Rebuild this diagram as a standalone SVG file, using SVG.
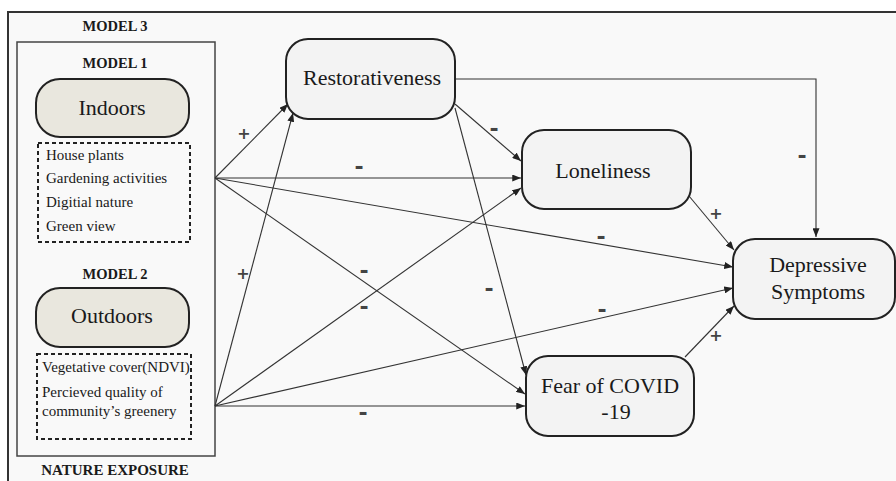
<svg xmlns="http://www.w3.org/2000/svg" width="896" height="481" viewBox="0 0 896 481">
<style>
text.serif{font-family:'Liberation Serif','Times New Roman','DejaVu Serif',serif;fill:#1a1a1a}
.node{fill:#f3f3f3;stroke:#222;stroke-width:2}
.cat{fill:#e9e7de;stroke:#222;stroke-width:2}
.dot{fill:none;stroke:#222;stroke-width:2;stroke-dasharray:4,3}
.title{font-weight:bold;font-size:14.5px;text-anchor:middle}
.big{font-size:22px;text-anchor:middle}
.small{font-size:15px}
.conn path{fill:none;stroke:#333;stroke-width:1.1;marker-end:url(#arr)}
.sign{font-family:'DejaVu Sans',sans-serif;font-weight:bold;fill:#444;text-anchor:middle}
.minus{font-size:22px}
.plus{font-size:16px}
</style>
<defs>
<marker id="arr" viewBox="0 0 10 8" refX="10" refY="4" markerWidth="9" markerHeight="7" markerUnits="userSpaceOnUse" orient="auto">
<path d="M0,0 L10,4 L0,8 z" fill="#222"/>
</marker>
</defs>
<rect x="0" y="0" width="896" height="481" fill="#ffffff"/>
<rect x="8" y="12" width="900" height="480" fill="#f9f9f9" stroke="#333" stroke-width="2"/>

<g id="model3">
<text class="serif title" x="115" y="31">MODEL 3</text>
<text class="serif title" x="115" y="475" style="font-size:15px">NATURE EXPOSURE</text>
</g>
<g id="nature-box">
<rect x="17" y="42" width="198" height="414" fill="none" stroke="#444" stroke-width="1.5"/>
</g>
<g id="indoors">
<text class="serif title" x="115" y="68">MODEL 1</text>
<rect class="cat" x="36" y="79" width="153" height="58" rx="24"/>
<text class="serif big" x="112" y="115">Indoors</text>
<rect class="dot" x="38" y="143" width="152" height="99"/>
<text class="serif small" x="46" y="160">House plants</text>
<text class="serif small" x="46" y="183">Gardening activities</text>
<text class="serif small" x="46" y="207">Digitial nature</text>
<text class="serif small" x="46" y="231">Green view</text>
</g>
<g id="outdoors">
<text class="serif title" x="115" y="279">MODEL 2</text>
<rect class="cat" x="36" y="288" width="153" height="59" rx="24"/>
<text class="serif big" x="112" y="323">Outdoors</text>
<rect class="dot" x="37" y="354" width="154" height="85"/>
<text class="serif small" x="42" y="372">Vegetative cover(NDVI)</text>
<text class="serif small" x="42" y="397">Percieved quality of</text>
<text class="serif small" x="42" y="416">community’s greenery</text>
</g>

<g class="conn" id="connectors">
<path d="M215,178 L288,104"/>
<path d="M215,406 L293,113"/>
<path d="M455,79 L816,79 L816,237"/>
<path d="M455,104 L521,161"/>
<path d="M215,178 L521,178"/>
<path d="M215,406 L521,188"/>
<path d="M215,178 L733,267"/>
<path d="M215,178 L525,394"/>
<path d="M215,406 L733,288"/>
<path d="M215,406 L525,406"/>
<path d="M455,108 L526,375"/>
<path d="M689,196 L734,250"/>
<path d="M685,357 L734,306"/>
</g>

<g id="signs">
<text class="sign plus" x="244" y="139">+</text>
<text class="sign plus" x="243" y="279">+</text>
<text class="sign minus" x="802" y="163">-</text>
<text class="sign minus" x="494" y="136">-</text>
<text class="sign minus" x="359" y="174">-</text>
<text class="sign minus" x="364" y="278">-</text>
<text class="sign minus" x="364" y="314">-</text>
<text class="sign minus" x="601" y="244">-</text>
<text class="sign minus" x="602" y="317">-</text>
<text class="sign minus" x="363" y="420">-</text>
<text class="sign minus" x="489" y="296">-</text>
<text class="sign plus" x="716" y="219">+</text>
<text class="sign plus" x="716" y="341">+</text>
</g>

<g id="restorativeness">
<rect class="node" x="286" y="39" width="169" height="80" rx="22"/>
<text class="serif big" x="372" y="85">Restorativeness</text>
</g>
<g id="loneliness">
<rect class="node" x="522" y="130" width="169" height="79" rx="22"/>
<text class="serif big" x="603" y="178">Loneliness</text>
</g>
<g id="depressive">
<rect class="node" x="733" y="239" width="162" height="80" rx="22"/>
<text class="serif big" x="818" y="272">Depressive</text>
<text class="serif big" x="818" y="299">Symptoms</text>
</g>
<g id="fear">
<rect class="node" x="526" y="356" width="168" height="80" rx="22"/>
<text class="serif big" x="610" y="393">Fear of COVID</text>
<text class="serif big" x="616" y="419">-19</text>
</g>
</svg>
